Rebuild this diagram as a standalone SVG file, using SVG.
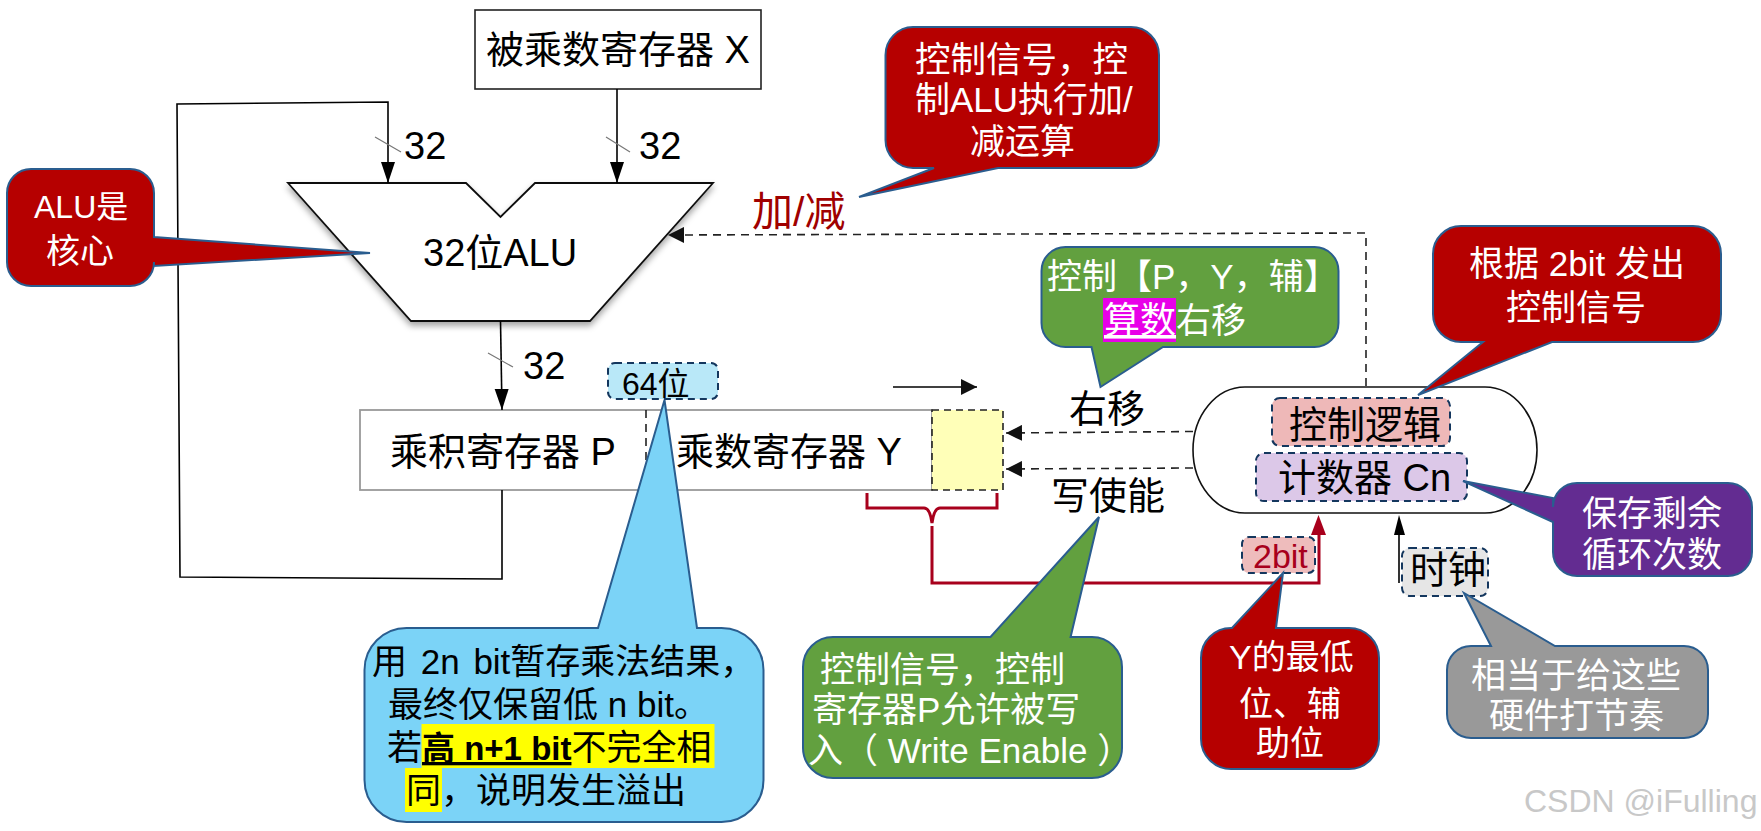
<svg xmlns="http://www.w3.org/2000/svg" width="1761" height="831" viewBox="0 0 1761 831">
<style>
text{font-family:"Liberation Sans","Noto Sans CJK SC",sans-serif;font-size:38px;fill:#000}
.c{font-size:35px;fill:#fff}
.d{font-size:35px;fill:#000}
.ln{fill:none;stroke:#000;stroke-width:1.6}
.tick{fill:none;stroke:#777;stroke-width:1.2}
.dash{fill:none;stroke:#222;stroke-width:1.6;stroke-dasharray:8 6}
.red{fill:none;stroke:#a8001c;stroke-width:3}
.box{stroke:#14375e;stroke-width:2;stroke-dasharray:7 5}
.call{stroke:#2a5d8f;stroke-width:2}
.r{fill:#b60000}.g{fill:#62a03f}
</style>
<defs>
<marker id="as" markerUnits="userSpaceOnUse" markerWidth="22" markerHeight="16" refX="21" refY="8" orient="auto"><path d="M0 1L21 8L0 15Z" fill="#000"/></marker>
<marker id="ad" markerUnits="userSpaceOnUse" markerWidth="17" markerHeight="16" refX="16" refY="8" orient="auto"><path d="M0 0L16 8L0 16Z" fill="#111"/></marker>
<filter id="sh" x="-5%" y="-5%" width="110%" height="115%"><feDropShadow dx="0" dy="4" stdDeviation="3" flood-color="#000" flood-opacity=".35"/></filter>
</defs>
<rect width="1761" height="831" fill="#fff"/>

<g id="registers">
<g id="node-x"><rect x="475" y="10" width="286" height="79" fill="#fff" stroke="#222" stroke-width="1.6"/><text x="486" y="63">被乘数寄存器 X</text></g>
<g id="node-alu"><path d="M288 183H466L500.500 217L535 183H713L590 321H411Z" fill="#fff" stroke="#111" stroke-width="1.8" filter="url(#sh)"/><text x="423" y="266">32位ALU</text></g>
<g id="node-reg"><rect x="360" y="410" width="572" height="80" fill="#fff" stroke="#999" stroke-width="1.8"/><path class="dash" d="M646 410V490" stroke-dasharray="6 5"/><text x="390" y="465">乘积寄存器 P</text><text x="676" y="465">乘数寄存器 Y</text></g>
<g id="node-aux"><rect x="932" y="410" width="71" height="80" fill="#ffffb8" stroke="#222" stroke-width="1.6" stroke-dasharray="7 5"/></g>
<g id="node-ctrl"><rect x="1193" y="387" width="344" height="126" rx="52" ry="63" fill="#fff" stroke="#111" stroke-width="1.6"/></g>
</g>

<g id="connectors">
<path class="ln" d="M502 490V579L180 577L177 104L388 102V183" marker-end="url(#as)"/>
<path class="ln" d="M617 89V183" marker-end="url(#as)"/>
<path class="ln" d="M500.500 321L502 410" marker-end="url(#as)"/>
<path class="tick" d="M375 137L401 152M606 137L630 152M488 353L513 367"/>
<path class="ln" d="M893 387H977" marker-end="url(#ad)"/>
<path class="dash" d="M1366 386V233L668 235" marker-end="url(#ad)"/>
<path class="dash" d="M1193 431.500L1006 433" marker-end="url(#ad)"/>
<path class="dash" d="M1193 468L1006 469" marker-end="url(#ad)"/>
<path class="red" d="M867 493V508H924Q930 508 932 523Q934 508 940 508H997V493"/>
<path class="red" d="M932 526V583H1319V530"/>
<path d="M1311 535L1318.500 515L1326 535Z" fill="#a8001c"/>
<path class="ln" d="M1399 583V532"/>
<path d="M1394 535L1399 515L1405 535Z" fill="#000"/>
<text x="404" y="159">32</text><text x="639" y="159">32</text><text x="523" y="379">32</text>
<text x="752" y="226" style="fill:#a00000;font-size:41px">加/减</text>
<text x="1069" y="422">右移</text><text x="1051" y="509">写使能</text>
</g>

<g id="node-logic"><rect class="box" x="1272" y="398" width="178" height="48" rx="8" fill="#eeb8b8"/><text x="1289" y="438">控制逻辑</text></g>
<g id="node-counter"><rect class="box" x="1256" y="453" width="211" height="48" rx="8" fill="#dcc8e8"/><text x="1278" y="491">计数器 Cn</text></g>
<g id="node-2bit"><rect class="box" x="1242" y="537" width="73" height="36" rx="7" fill="#eebcbc"/><text x="1253" y="568" style="fill:#a8001c;font-size:34px">2bit</text></g>
<g id="node-clock"><rect class="box" x="1402" y="548" width="86" height="48" rx="8" fill="#e6e6e6"/><text x="1410" y="583">时钟</text></g>
<g id="node-64"><rect class="box" x="608" y="363" width="110" height="36" rx="7" fill="#b9e8f8"/><text x="622" y="395" style="font-size:32px">64位</text></g>

<g id="note-alu"><path class="call r" d="M31 169H130A24 24 0 0 1 154 193V237L370 253L154 266V262A24 24 0 0 1 130 286H31A24 24 0 0 1 7 262V193A24 24 0 0 1 31 169Z"/><text class="c" x="34" y="218" style="font-size:32px">ALU是</text><text class="c" x="46" y="263" style="font-size:34px">核心</text></g>
<g id="note-addsub"><path class="call r" d="M913 27H1131A28 28 0 0 1 1159 55V140A28 28 0 0 1 1131 168H998L859 197L934 168H913A28 28 0 0 1 885.500 140V55A28 28 0 0 1 913 27Z"/><text class="c" x="915" y="72" style="font-size:35.500px">控制信号，控</text><text class="c" x="915" y="112" style="font-size:35px">制ALU执行加/</text><text class="c" x="970" y="154">减运算</text></g>
<g id="note-shift"><path class="call g" d="M1066 247H1314A24 24 0 0 1 1338.500 271V323A24 24 0 0 1 1314 347H1163L1100.500 387L1091.500 347H1066A24 24 0 0 1 1041.500 323V271A24 24 0 0 1 1066 247Z"/><text class="c" x="1047" y="289">控制【P，Y，辅】</text><rect x="1103" y="298" width="73" height="44" fill="#e800e8"/><text class="c" x="1104" y="333" style="text-decoration:underline;font-size:36px">算数</text><text class="c" x="1176" y="333">右移</text></g>
<g id="note-signal"><path class="call r" d="M1461 226H1693A28 28 0 0 1 1721 254V314A28 28 0 0 1 1693 342H1552L1418 395L1483 342H1461A28 28 0 0 1 1433 314V254A28 28 0 0 1 1461 226Z"/><text class="c" x="1469" y="276">根据 2bit 发出</text><text class="c" x="1506" y="320">控制信号</text></g>
<g id="note-count" transform="translate(-3 0)"><path d="M1580 483H1731A24 24 0 0 1 1755 507V552A24 24 0 0 1 1731 576H1580A24 24 0 0 1 1556 552V522L1466 481L1556 498V507A24 24 0 0 1 1580 483Z" class="call" fill="#632c91"/><text class="c" x="1585" y="526">保存剩余</text><text class="c" x="1585" y="567">循环次数</text></g>
<g id="note-low" transform="translate(-1 0)"><path class="call r" d="M1232 628H1233L1284 573L1277 628H1350A30 30 0 0 1 1380 658V739A30 30 0 0 1 1350 769H1232A30 30 0 0 1 1202 739V658A30 30 0 0 1 1232 628Z"/><text class="c" x="1230" y="669" style="font-size:34px">Y的最低</text><text class="c" x="1240" y="716" style="font-size:34px">位、辅</text><text class="c" x="1257" y="755" style="font-size:34px">助位</text></g>
<g id="note-clock" transform="translate(-3 0)"><path class="call" fill="#999" d="M1474 646H1494L1467 593L1558 646H1687A24 24 0 0 1 1711 670V714A24 24 0 0 1 1687 738H1474A24 24 0 0 1 1450 714V670A24 24 0 0 1 1474 646Z"/><text class="c" x="1474" y="688">相当于给这些</text><text class="c" x="1492" y="728">硬件打节奏</text></g>
<g id="note-write"><path class="call g" d="M833 637H990.500L1099 517L1070.600 637H1092A30 30 0 0 1 1122 667V748A30 30 0 0 1 1092 778H833A30 30 0 0 1 803 748V667A30 30 0 0 1 833 637Z"/><text class="c" x="820" y="682">控制信号，控制</text><text class="c" x="812" y="722">寄存器P允许被写</text><text class="c" x="808" y="763">入（ Write Enable ）</text></g>
<g id="note-64"><path class="call" fill="#7bd3f7" d="M406.500 628H598L664.500 400L697 628H721.500A42 42 0 0 1 763.500 670V780A42 42 0 0 1 721.500 822H406.500A42 42 0 0 1 364.500 780V670A42 42 0 0 1 406.500 628Z"/>
<rect x="421.500" y="724" width="293" height="44" fill="#ff0"/><rect x="405" y="768" width="37" height="44" fill="#ff0"/>
<text class="d" x="372" y="674" style="word-spacing:4px">用 2n bit暂存乘法结果，</text><text class="d" x="388" y="717">最终仅保留低 n bit。</text>
<text class="d" x="387" y="760">若<tspan font-weight="bold" style="text-decoration:underline;font-size:33px">高 n+1 bit</tspan>不完全相</text>
<text class="d" x="406" y="803">同，说明发生溢出</text></g>

<text x="1524" y="812" style="fill:#c8c8c8;font-size:32px">CSDN @iFulling</text>
</svg>
